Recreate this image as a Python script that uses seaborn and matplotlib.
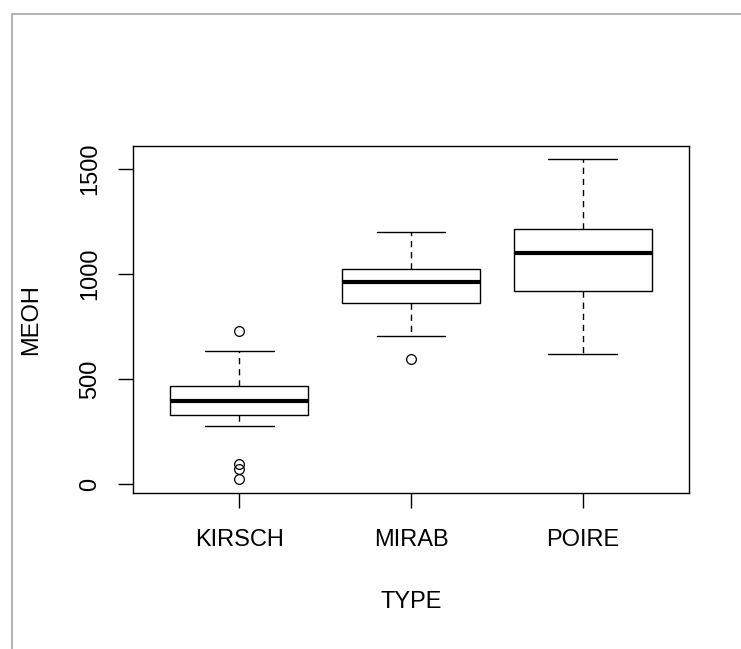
import matplotlib
matplotlib.use("Agg")
import matplotlib.pyplot as plt
import seaborn as sns
import pandas as pd
from matplotlib.lines import Line2D

# ---- data ----
categories = ["KIRSCH", "MIRAB", "POIRE"]
kirsch = [25, 75, 95, 278, 331, 350, 370, 385, 398, 415, 435, 450, 468, 510, 570, 635, 730]
mirab = [597, 706, 800, 865, 900, 935, 962, 990, 1010, 1025, 1080, 1140, 1200]
poire = [620, 760, 850, 919, 980, 1050, 1103, 1140, 1180, 1216, 1320, 1430, 1549]
y_ticks = [0, 500, 1000, 1500]
x_title = "TYPE"
y_title = "MEOH"

groups = [kirsch, mirab, poire]
df = pd.DataFrame({
    x_title: [c for c, g in zip(categories, groups) for _ in g],
    y_title: [v for g in groups for v in g],
})

sns.set_theme(style="ticks")
plt.rcParams["font.family"] = ["Liberation Sans", "DejaVu Sans"]

fig = plt.figure(figsize=(7.41, 6.49), dpi=100)
fig.patch.set_facecolor("white")
W, H = 741, 649
left, right, top, bottom = 132.7, 689.3, 145.7, 492.7
ax = fig.add_axes([left / W, 1 - bottom / H, (right - left) / W, (bottom - top) / H])

sns.boxplot(
    data=df, x=x_title, y=y_title, order=categories, ax=ax,
    color="white", linecolor="black", linewidth=1.0, width=0.8, whis=1.5,
    medianprops=dict(linewidth=3.0, color="black", solid_capstyle="butt"),
    whiskerprops=dict(linestyle=(0, (4.5, 3.5)), linewidth=1.0, color="black"),
    capprops=dict(linewidth=1.0, color="black"),
    boxprops=dict(linewidth=1.0, edgecolor="black", facecolor="white"),
    flierprops=dict(marker="o", markerfacecolor="none", markeredgecolor="black",
                    markersize=7.0, markeredgewidth=0.9),
    capwidths=0.4,
)

ax.set_xlim(-0.62, 2.62)
ax.set_ylim(-40, 1612)
ax.set_yticks(y_ticks)
ax.set_yticklabels([str(v) for v in y_ticks], rotation=90, va="center")

for s in ax.spines.values():
    s.set_color("black")
    s.set_linewidth(1.0)

ax.tick_params(axis="both", direction="out", length=10.5, width=1.0, color="black",
               labelsize=17, labelcolor="black")
ax.tick_params(axis="y", pad=12.2)
ax.tick_params(axis="x", pad=15.5)

ax.set_xlabel(x_title, fontsize=17, color="black", labelpad=29)
ax.set_ylabel(y_title, fontsize=17, color="black", labelpad=26.6)

# light grey window frame (top and left edges)
fig.add_artist(Line2D([11.5 / W, 1.0], [1 - 13.5 / H, 1 - 13.5 / H],
                      transform=fig.transFigure, color="#b4b4b4", linewidth=1.5))
fig.add_artist(Line2D([11.5 / W, 11.5 / W], [0.0, 1 - 13.5 / H],
                      transform=fig.transFigure, color="#b4b4b4", linewidth=1.5))

fig.savefig("out.png", dpi=100, facecolor="white")
